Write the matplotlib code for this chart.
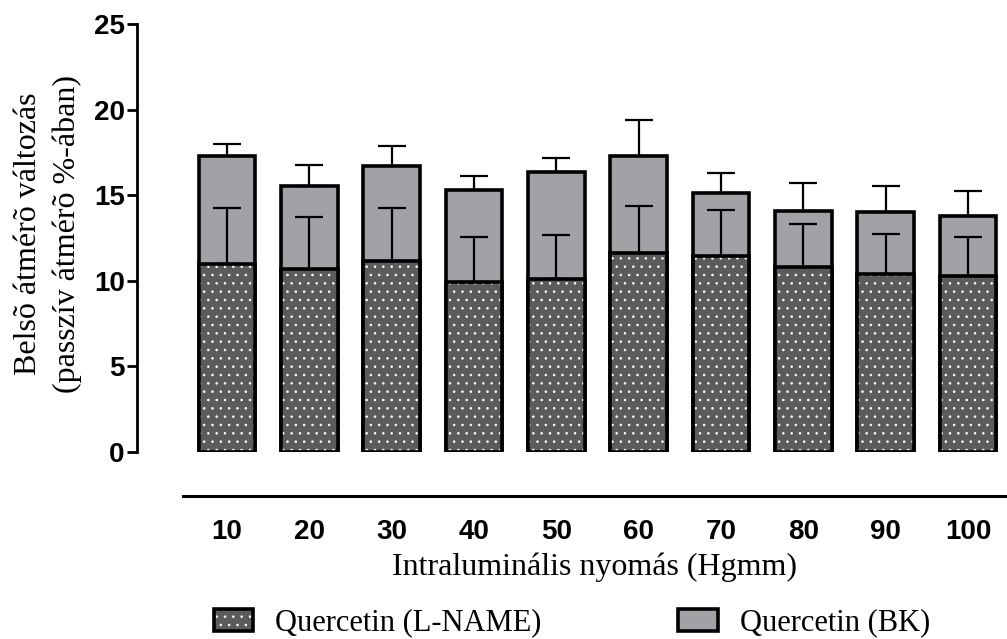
import matplotlib
matplotlib.use("Agg")
import matplotlib.pyplot as plt
from matplotlib.patches import Patch
from matplotlib.legend_handler import HandlerTuple
import numpy as np

# Intraluminal pressure steps (Hgmm)
pressure = ["10", "20", "30", "40", "50", "60", "70", "80", "90", "100"]

# Quercetin (BK) mean and SEM
bk_mean = [17.27, 15.52, 16.72, 15.29, 16.33, 17.31, 15.13, 14.06, 14.00, 13.77]
bk_sem = [0.73, 1.22, 1.17, 0.81, 0.82, 2.06, 1.17, 1.66, 1.56, 1.50]

# Quercetin (L-NAME) mean and SEM
ln_mean = [10.96, 10.70, 11.15, 9.93, 10.08, 11.60, 11.44, 10.82, 10.41, 10.27]
ln_sem = [3.28, 3.03, 3.11, 2.62, 2.62, 2.75, 2.68, 2.47, 2.35, 2.26]

plt.rcParams["hatch.linewidth"] = 0.6

fig = plt.figure(figsize=(10.07, 6.39), dpi=100)
ax = fig.add_axes([183 / 1007, 187 / 639, 824 / 1007, 428 / 639])

x = np.arange(len(pressure))
w = 0.69
light = "#a2a1a6"
dark = "#5b5b5b"

# BK bars behind, L-NAME bars in front
ax.bar(x, bk_mean, w, color=light, edgecolor="black", linewidth=2.6, zorder=2)
ax.bar(x, ln_mean, w, color=dark, edgecolor="white", linewidth=0, hatch="..", zorder=3)
ax.bar(x, ln_mean, w, color="none", edgecolor="black", linewidth=2.6, zorder=4)

# upper error bars only
ax.errorbar(x, bk_mean, yerr=[np.zeros(len(x)), bk_sem], fmt="none", ecolor="black",
            elinewidth=1.6, capsize=10, capthick=1.6, zorder=1)
ax.errorbar(x, ln_mean, yerr=[np.zeros(len(x)), ln_sem], fmt="none", ecolor="black",
            elinewidth=1.6, capsize=10, capthick=1.6, zorder=5)

ax.set_xlim(-0.534, 9.474)
ax.set_ylim(0, 25)
ax.set_yticks([0, 5, 10, 15, 20, 25])
ax.set_xticks(x)
ax.set_xticklabels(pressure)

for s in ["top", "right"]:
    ax.spines[s].set_visible(False)
ax.spines["left"].set_position(("outward", 33))
ax.spines["left"].set_bounds(0, 25)
ax.spines["bottom"].set_position(("outward", 32))
ax.spines["left"].set_linewidth(2.0)
ax.spines["bottom"].set_linewidth(2.2)

for lab in ax.get_yticklabels() + ax.get_xticklabels():
    lab.set_fontfamily("Liberation Sans")
    lab.set_fontweight("bold")
    lab.set_fontsize(20)
ax.tick_params(axis="y", length=7, width=2.0, pad=2)
ax.tick_params(axis="x", length=0, pad=16)

ax.set_xlabel("Intraluminális nyomás (Hgmm)", family="Liberation Serif", fontsize=23, labelpad=6)
ax.set_ylabel("Belsõ átmérõ változás\n(passzív átmérõ %-ában)", family="Liberation Serif",
              fontsize=23, linespacing=1.45)
ax.yaxis.set_label_coords(-0.122, 0.51)

ln_handle = (Patch(facecolor=dark, edgecolor="white", hatch="..", linewidth=0),
             Patch(facecolor="none", edgecolor="black", linewidth=2.6))
bk_handle = Patch(facecolor=light, edgecolor="black", linewidth=2.6)
fig.legend([ln_handle, bk_handle], ["Quercetin (L-NAME)", "Quercetin (BK)"], ncol=2,
           handler_map={tuple: HandlerTuple(ndivide=1)},
           loc="center left", bbox_to_anchor=(186 / 1007, 16 / 639), frameon=False,
           prop={"family": "Liberation Serif", "size": 22},
           handlelength=1.3, handleheight=0.7, handletextpad=0.7, columnspacing=4.5)
fig.savefig("out.png", dpi=100)
